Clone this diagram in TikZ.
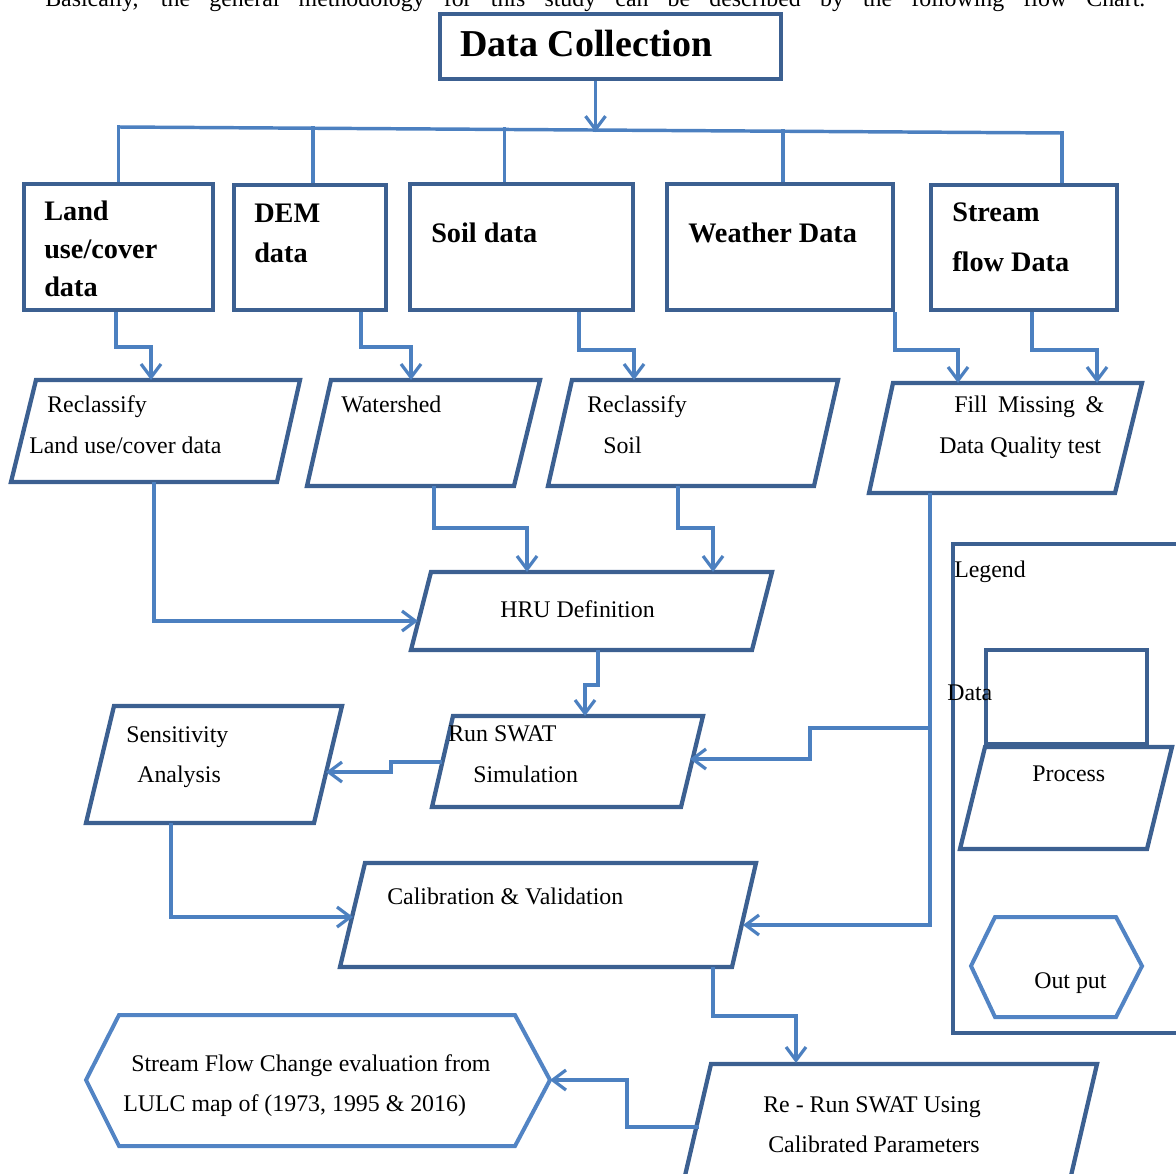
\documentclass[tikz,border=0pt]{standalone}
\usepackage{fontspec}
\setmainfont{Liberation Serif}
\usetikzlibrary{arrows.meta,fit,calc}
\definecolor{dkb}{RGB}{60,96,145}
\definecolor{cnb}{RGB}{76,128,192}
\definecolor{otb}{RGB}{82,132,196}
\begin{document}
\begin{tikzpicture}[x=0.75pt,y=-0.75pt,
  databox/.style={draw=dkb,line width=3.2pt,inner sep=0pt},
  procbox/.style={draw=dkb,line width=3.2pt,line join=miter},
  outbox/.style={draw=otb,line width=3pt},
  conn/.style={draw=cnb,line width=2.6pt},
  arr/.style={conn,-{Straight Barb[length=10pt,width=15pt,line width=2.4pt]}},
  reg/.style={anchor=base west,inner sep=0pt,font=\fontsize{17.9}{20}\selectfont},
  bld/.style={anchor=base west,inner sep=0pt,font=\fontsize{21.2}{24}\selectfont\bfseries},
]
\useasboundingbox (0,0) rectangle (1176,1173);
\clip (0,0) rectangle (1176,1173);

% intro line (clipped at top, as in the reference)
\node[reg] (intro) at (45,7) {\makebox[825pt][s]{Basically, the general methodology for this study can be described by the following flow Chart.}};

% title
\node[databox, fit={(440,14) (781,79)}] (dc) {};
\node[bld, font=\fontsize{28.5}{30}\selectfont\bfseries] (dct) at (460,57) {Data Collection};

% data boxes
\node[databox, fit={(24,184) (213,310)}] (land) {};
\node[databox, fit={(234,185) (386,310)}] (dem) {};
\node[databox, fit={(410,184) (633,310)}] (soil) {};
\node[databox, fit={(667,184) (893,310)}] (weather) {};
\node[databox, fit={(931,185) (1117,310)}] (stream) {};

\node[bld] (t-land1) at (44,220) {Land};
\node[bld] (t-land2) at (44,258) {use/cover};
\node[bld] (t-land3) at (44,296) {data};
\node[bld] (t-dem1) at (254,223) {DEM};
\node[bld] (t-dem2) at (254,262) {data};
\node[bld] (t-soil) at (431,242) {Soil data};
\node[bld] (t-weather) at (688,242) {Weather Data};
\node[bld] (t-stream1) at (952,222) {Stream};
\node[bld] (t-stream2) at (952,271) {flow Data};

% process parallelograms
\draw[procbox] (36,380) coordinate (rl1) -- (300,380) coordinate (rl2) -- (277,482) coordinate (rl3) -- (11,482) coordinate (rl4) -- cycle;
\draw[procbox] (331,380) coordinate (ws1) -- (540,380) coordinate (ws2) -- (514,486) coordinate (ws3) -- (307,486) coordinate (ws4) -- cycle;
\draw[procbox] (572,380) coordinate (rs1) -- (838,380) coordinate (rs2) -- (814,486) coordinate (rs3) -- (548,486) coordinate (rs4) -- cycle;
\draw[procbox] (893,383) coordinate (fm1) -- (1142,383) coordinate (fm2) -- (1115,493) coordinate (fm3) -- (869,493) coordinate (fm4) -- cycle;
\draw[procbox] (431,572) coordinate (hr1) -- (772,572) coordinate (hr2) -- (752,650) coordinate (hr3) -- (411,650) coordinate (hr4) -- cycle;
\draw[procbox] (453,716) coordinate (ru1) -- (703,716) coordinate (ru2) -- (681,807) coordinate (ru3) -- (432,807) coordinate (ru4) -- cycle;
\draw[procbox] (114,706) coordinate (se1) -- (342,706) coordinate (se2) -- (314,823) coordinate (se3) -- (86,823) coordinate (se4) -- cycle;
\draw[procbox] (365,863) coordinate (ca1) -- (756,863) coordinate (ca2) -- (732,967) coordinate (ca3) -- (340,967) coordinate (ca4) -- cycle;
\draw[procbox] (711,1064) coordinate (rr1) -- (1097,1064) coordinate (rr2) -- (1063,1210) coordinate (rr3) -- (677,1210) coordinate (rr4) -- cycle;

\node[reg] (t-rl1) at (47,412) {Reclassify};
\node[reg] (t-rl2) at (29,453) {Land use/cover data};
\node[reg] (t-ws) at (341,412) {Watershed};
\node[reg] (t-rs1) at (587,412) {Reclassify};
\node[reg] (t-rs2) at (603,453) {Soil};
\node[reg] (t-fm1) at (954,412) {\makebox[112.5pt][s]{Fill Missing \&}};
\node[reg] (t-fm2) at (939,453) {Data Quality test};
\node[reg] (t-hru) at (500,617) {HRU Definition};
\node[reg] (t-ru1) at (448,741) {Run SWAT};
\node[reg] (t-ru2) at (473,782) {Simulation};
\node[reg] (t-se1) at (126,742) {Sensitivity};
\node[reg] (t-se2) at (137,782) {Analysis};
\node[reg] (t-ca) at (387,904) {Calibration \& Validation};
\node[reg] (t-rr1) at (763,1112) {Re - Run SWAT Using};
\node[reg] (t-rr2) at (768,1152) {Calibrated Parameters};

% output hexagon
\draw[outbox] (86,1080) coordinate (ou-l) -- (119,1015) -- (515,1015) -- (550,1080) coordinate (ou-r) -- (515,1146) -- (119,1146) -- cycle;
\node[reg] (t-ou1) at (131,1071) {Stream Flow Change evaluation from};
\node[reg] (t-ou2) at (123,1111) {LULC map of (1973, 1995 \& 2016)};

% legend
\draw[databox] (953,544) rectangle (1200,1033);
\node[reg] (t-leg) at (954,577) {Legend};
\node[databox, fit={(986,650) (1147,744)}] (lg-data) {};
\node[reg] (t-lgd) at (947,700) {Data};
\draw[procbox] (985,747) -- (1172,747) -- (1147,849) -- (960,849) -- cycle;
\node[reg] (t-lgp) at (1032,781) {Process};
\draw[outbox] (971,966) -- (995,917) -- (1116,917) -- (1142,966) -- (1116,1017) -- (995,1017) -- cycle;
\node[reg] (t-lgo) at (1034,988) {Out put};

% connector end points
\coordinate (bL) at (118,127);
\coordinate (bR) at (1062,133);
\coordinate (rl-in) at (151,380);
\coordinate (ws-in) at (411,380);
\coordinate (rs-in) at (634,380);
\coordinate (fm-in1) at (958,383);
\coordinate (fm-in2) at (1097,383);
\coordinate (rl-out) at (154,482);
\coordinate (ws-out) at (434,486);
\coordinate (rs-out) at (678,486);
\coordinate (fm-out) at (930,493);
\coordinate (hr-inL) at (418,621);
\coordinate (hr-in1) at (527,572);
\coordinate (hr-in2) at (713,572);
\coordinate (hr-out) at (598,650);
\coordinate (ru-in) at (585,716);
\coordinate (ru-outL) at (442,762);
\coordinate (ru-inR) at (690,759);
\coordinate (se-in) at (326,772);
\coordinate (se-out) at (171,823);
\coordinate (fm-br) at (930,728);
\coordinate (ca-inL) at (353,917);
\coordinate (ca-inR) at (743,925);
\coordinate (ca-out) at (713,967);
\coordinate (rr-in) at (796,1063);
\coordinate (rr-outL) at (699,1127);

% connectors
\draw[arr] ($(dc.south)+(-15,0)$) -- ++(0,51);
\draw[conn] (bL) -- (bR);
\draw[conn] (land.north) -- ++(0,-57);
\draw[conn] ($(dem.north)+(3,0)$) -- ++(0,-57);
\draw[conn] ($(soil.north)+(-17,0)$) -- ++(0,-55);
\draw[conn] ($(weather.north)+(3,0)$) -- ++(0,-53);
\draw[conn] ($(stream.north)+(38,0)$) -- ++(0,-52);

\draw[arr] ($(land.south)+(-2.5,0)$) -- ++(0,35) -| (rl-in);
\draw[arr] ($(dem.south)+(51,0)$) -- ++(0,35) -| (ws-in);
\draw[arr] ($(soil.south)+(57.5,0)$) -- ++(0,38) -| (rs-in);
\draw[arr] (weather.south east) -- ++(0,38) -| (fm-in1);
\draw[arr] ($(stream.south)+(8,0)$) -- ++(0,38) -| (fm-in2);

\draw[arr] (rl-out) |- (hr-inL);
\draw[arr] (ws-out) -- ++(0,42) -| (hr-in1);
\draw[arr] (rs-out) -- ++(0,42) -| (hr-in2);
\draw[arr] (hr-out) -- ++(0,35) -| (ru-in);
\draw[arr] (ru-outL) -- ++(-51,0) |- (se-in);
\draw[arr] (fm-out) |- (ca-inR);
\draw[arr] (fm-br) -- ++(-120,0) |- (ru-inR);
\draw[arr] (se-out) |- (ca-inL);
\draw[arr] (ca-out) -- ++(0,49) -| (rr-in);
\draw[arr] (rr-outL) -- ++(-72,0) |- (ou-r);
\end{tikzpicture}
\end{document}
